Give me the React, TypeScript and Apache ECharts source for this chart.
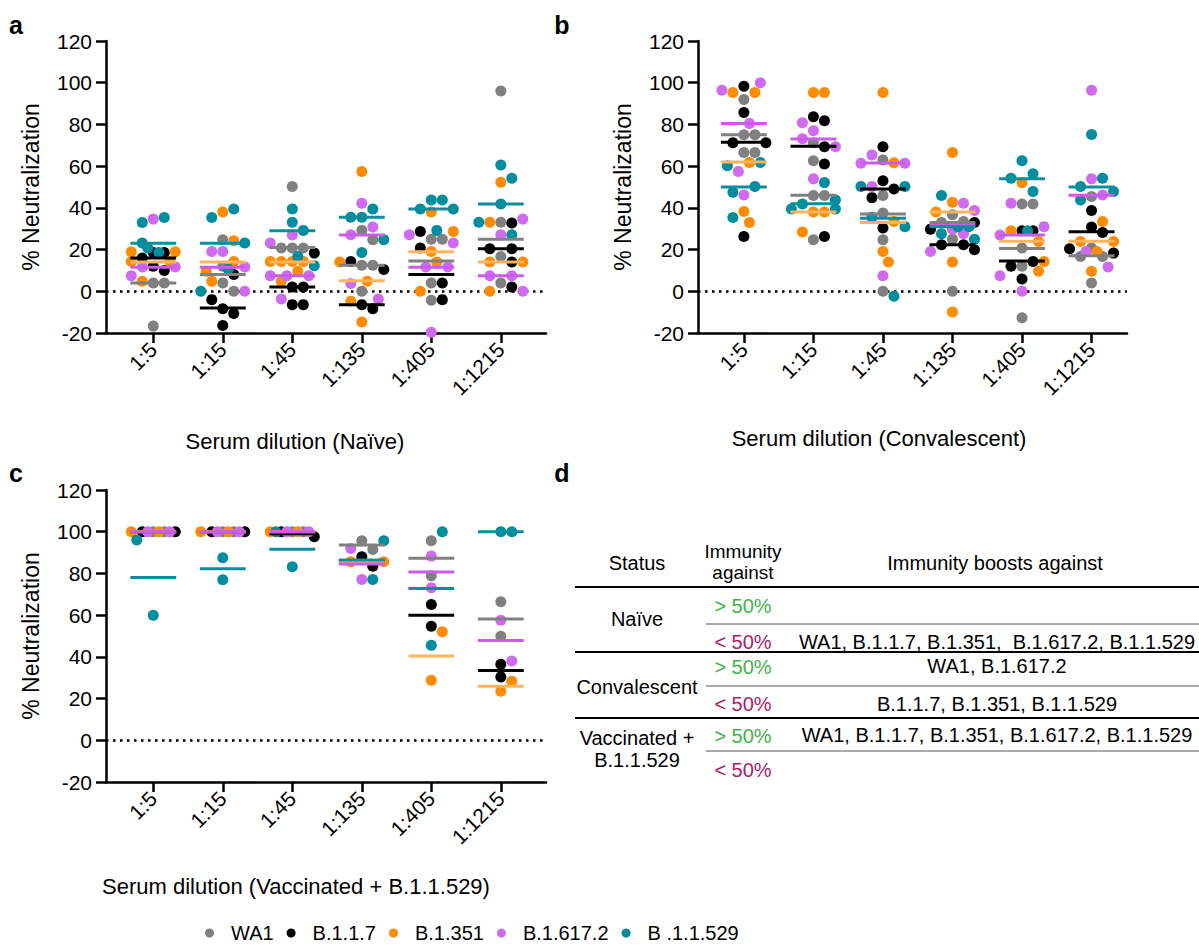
import React, { useEffect, useRef } from 'react';
import * as echarts from 'echarts';

// ---------- categories & labels ----------
const dilutions = ['1:5', '1:15', '1:45', '1:135', '1:405', '1:1215'];
const variants = ['WA1', 'B.1.1.7', 'B.1.351', 'B.1.617.2', 'B .1.1.529'];
const yTicks = [-20, 0, 20, 40, 60, 80, 100, 120];

// ---------- panel a: Naïve (values per dilution) ----------
const naiveWA1 = [[4, 4, -16.7], [24.7, 4, 0, 12], [50.2, 20.7, 20.7, 20.7], [29.2, 24.7, 12.5, 0, 12.5], [25, 25, 4, -4.3], [96, 33.1, 16.7, 4]];
const naiveB117 = [[18.6, 18.6, 16, 12, 10], [8, -8.4, -4, -10.7, -16.4], [18.3, -6.4, -6.4, 2, 2], [14.3, 10.4, -6.4, -8.4], [28.7, 20.7, 4, -4], [32.7, 20.4, 20.4, 14, 2]];
const naiveB1351 = [[19, 19, 14.3, 14.3, 4.8], [38, 24.2, 14.3, 4.8, 9.6], [14.3, 14.3, 14.3, 14.3, 4.8, 9.6], [57.4, 14, 4.8, -4.8, -14.7], [38, 28.7, 19.1, 14, 0], [52.3, 33.1, 14, 14, 0]];
const naiveB16172 = [[34.6, 11.6, 11.6, 7.5], [19.1, 19.1, 11.6, 0], [23.1, 27, 7.5, 7.5, 7.5, -3.7], [42.2, 30.8, 27.1, 3.7, -3.7], [27.1, 23.1, 11.6, 11.6, -19.6], [34.6, 27.1, 7.5, 7.5, 0]];
const naiveB11529 = [[35.4, 33, 23.1, 18.6, 20.7], [39.5, 35.4, 23.1, 10.7, 0], [39.5, 33.1, 29.2, 12.3, 16.7], [39.5, 35.5, 35.5, 24.7, 18.6], [43.8, 43.8, 39.5, 39.5, 29.2], [60.6, 54.2, 41.8, 33.1, 27.1]];
const naiveMedWA1 = [4, 8, 21, 12.5, 14.5, 25];
const naiveMedB117 = [16, -8, 2, -6.5, 8, 20.4];
const naiveMedB1351 = [14, 14, 14, 5, 19, 14];
const naiveMedB16172 = [11.5, 11.5, 7.5, 27, 11.5, 7.5];
const naiveMedB11529 = [23, 23, 29, 35.5, 39.5, 41.8];

// ---------- panel b: Convalescent ----------
const convWA1 = [[92, 75, 75, 66.5, 66.5], [71.2, 62.6, 45.9, 45.9, 24.7], [62.9, 45.9, 37.5, 24.7, 0], [36.7, 33.5, 25, 0, 33], [41.8, 41.8, 20.7, 12, -12.7], [45.4, 20.7, 16.7, 16.7, 4]];
const convB117 = [[98.3, 85.7, 71.2, 71.2, 26.3], [83.7, 81.8, 69.3, 61, 26.3], [69.3, 53, 49, 44.9, 30.3], [33, 29.8, 22.3, 22.3, 19.9], [29, 29, 14.3, 12, 5.9], [38.7, 30.8, 28.2, 18.3, 20.4]];
const convB1351 = [[95.3, 95.3, 61.8, 38.2, 33], [95.3, 95.3, 38, 38, 28.4], [95.3, 61.6, 33.5, 19.1, 14], [66.5, 42.7, 38, 14, -9.9], [52.1, 29, 23.9, 14.3, 9.6], [33.5, 23.9, 23.9, 19.1, 9.6]];
const convB16172 = [[100, 96.4, 80.5, 57.4, 46.2], [80.8, 77, 73.1, 69.3, 53.9], [65.4, 61.4, 61.4, 50.2, 7.5], [42.2, 38.7, 27.6, 29.8, 19.1], [42.2, 31, 27, 7.5, 0], [96.4, 53.9, 46.2, 19.1, 11.6]];
const convB11529 = [[61.8, 60.2, 50.2, 47.5, 35.4], [52.1, 41.8, 43.8, 39.5, 39.5], [50.2, 50.2, 35.5, 31, -2.4], [45.9, 31, 31, 27.6, 25], [62.6, 56.3, 54.2, 47.8, 29], [75.2, 54.2, 50.2, 47.8, 43.8]];
const convMedWA1 = [75, 46, 37, 33, 20.5, 17];
const convMedB117 = [71.5, 69.5, 49, 22.3, 14.5, 28.5];
const convMedB1351 = [62, 38, 33, 38, 24, 24];
const convMedB16172 = [80.5, 73, 61.5, 31.5, 27, 46];
const convMedB11529 = [50, 42, 35, 31, 54, 50];

// ---------- panel c: Vaccinated + B.1.1.529 ----------
const vaxWA1 = [[100, 100], [100, 100], [100, 100], [95.7, 91.5], [95.7, 78.9], [66.4, 49.9]];
const vaxB117 = [[100, 100], [100, 100], [100, 97.6], [88, 83.5], [65.1, 54.7], [36.5, 30.4]];
const vaxB1351 = [[100, 100], [100, 100], [100, 100], [85.6, 85.6], [52, 28.8], [28.3, 23.5]];
const vaxB16172 = [[100, 100], [100, 100], [100, 100], [92, 77.1], [88.3, 73.1], [57.6, 38]];
const vaxB11529 = [[96, 60], [87.5, 77], [100, 83.2], [95.7, 77.1], [100, 45.6], [100, 100]];
const vaxMedWA1 = [100, 100, 100, 93.6, 87.3, 58.2];
const vaxMedB117 = [100, 100, 99, 85.8, 59.9, 33.5];
const vaxMedB1351 = [100, 100, 100, 85.6, 40.4, 25.9];
const vaxMedB16172 = [100, 100, 100, 84.5, 80.7, 47.8];
const vaxMedB11529 = [78, 82.2, 91.6, 86.4, 72.8, 100];

// ---------- table (panel d) ----------
const tableHeader = ['Status', 'Immunity\nagainst', 'Immunity boosts against'];
const tableStatus = ['Naïve', 'Convalescent', 'Vaccinated +\nB.1.1.529'];
const tableAbove = ['', 'WA1, B.1.617.2', 'WA1, B.1.1.7, B.1.351, B.1.617.2, B.1.1.529'];
const tableBelow = ['WA1, B.1.1.7, B.1.351,  B.1.617.2, B.1.1.529', 'B.1.1.7, B.1.351, B.1.1.529', ''];

// ---------- styles ----------
const dotColors = ['#808080', '#000000', '#FF8C00', '#CF6BEE', '#008D9E'];
const lineColors = ['#808080', '#000000', '#FFB35C', '#C95DE9', '#0A8E9E'];
const FONT = '"Liberation Sans", Arial, Helvetica, sans-serif';
const GREEN = '#3FB34A';
const MAGENTA = '#A81E68';

const panels = [
  {
    grid: { left: 106, top: 41, width: 440, height: 292 },
    xMin: -0.68, xMax: 5.65,
    data: [naiveWA1, naiveB117, naiveB1351, naiveB16172, naiveB11529],
    med: [naiveMedWA1, naiveMedB117, naiveMedB1351, naiveMedB16172, naiveMedB11529],
    title: 'Serum dilution (Naïve)', titleX: 295, titleY: 441,
  },
  {
    grid: { left: 698, top: 41, width: 429, height: 292 },
    xMin: -0.66, xMax: 5.51,
    data: [convWA1, convB117, convB1351, convB16172, convB11529],
    med: [convMedWA1, convMedB117, convMedB1351, convMedB16172, convMedB11529],
    title: 'Serum dilution (Convalescent)', titleX: 879, titleY: 438,
  },
  {
    grid: { left: 106, top: 490, width: 440, height: 292 },
    xMin: -0.68, xMax: 5.65,
    data: [vaxWA1, vaxB117, vaxB1351, vaxB16172, vaxB11529],
    med: [vaxMedWA1, vaxMedB117, vaxMedB1351, vaxMedB16172, vaxMedB11529],
    title: 'Serum dilution (Vaccinated + B.1.1.529)', titleX: 296, titleY: 886,
  },
];

const DOT = 11;
const HALF_LINE = 0.33;

// beeswarm offsets (in category units) so dots of one dilution do not overlap
function swarm(groups: number[][][], pxX: number, pxY: number, maxHalf: number) {
  const out = groups.map((g) => g.map((c) => c.map(() => 0)));
  for (let c = 0; c < dilutions.length; c++) {
    const placed: { x: number; y: number }[] = [];
    const pts: { vi: number; i: number; v: number }[] = [];
    groups.forEach((g, vi) => (g[c] || []).forEach((v, i) => pts.push({ vi, i, v })));
    const step = DOT / 2;
    const maxPx = maxHalf * pxX;
    const cands = [0];
    for (let k = 1; k * step <= maxPx + 0.01; k++) cands.push(k * step, -k * step);
    pts.forEach((p) => {
      const y = p.v * pxY;
      let best = 0;
      let bestD = -1;
      for (const cx of cands) {
        let minD = Infinity;
        for (const q of placed) {
          const d = Math.hypot(q.x - cx, q.y - y);
          if (d < minD) minD = d;
        }
        if (minD >= DOT) { best = cx; break; }
        if (minD > bestD + 0.5) { bestD = minD; best = cx; }
      }
      placed.push({ x: best, y });
      out[p.vi][c][p.i] = best / pxX;
    });
  }
  return out;
}

export default function App() {
  const ref = useRef<HTMLDivElement>(null);
  useEffect(() => {
    document.body.style.margin = '0';
    if (!ref.current) return;
    const chart = echarts.init(ref.current, undefined, { renderer: 'svg' });

    const grids: any[] = [];
    const xAxes: any[] = [];
    const yAxes: any[] = [];
    const series: any[] = [];
    const graphics: any[] = [];

    panels.forEach((p, pi) => {
      grids.push({ ...p.grid, containLabel: false });
      const catIdx = dilutions.map((_, i) => i);
      xAxes.push({
        type: 'value', gridIndex: pi, min: p.xMin, max: p.xMax,
        axisLine: { show: true, onZero: false, lineStyle: { color: '#000', width: 2.5 } },
        axisTick: { show: true, customValues: catIdx, length: 10, lineStyle: { color: '#000', width: 2.5 } },
        axisLabel: {
          show: true, customValues: catIdx, rotate: 45, margin: 13,
          fontSize: 21, color: '#000', fontFamily: FONT,
          formatter: (v: number) => dilutions[Math.round(v)] ?? '',
        },
        splitLine: { show: false },
      });
      yAxes.push({
        type: 'value', gridIndex: pi, min: yTicks[0], max: yTicks[yTicks.length - 1], interval: 20,
        axisLine: { show: true, onZero: false, lineStyle: { color: '#000', width: 2.5 } },
        axisTick: { show: true, length: 10, lineStyle: { color: '#000', width: 2.5 } },
        axisLabel: { fontSize: 21, color: '#000', margin: 14, fontFamily: FONT },
        splitLine: { show: false },
        name: '% Neutralization', nameLocation: 'middle', nameGap: 64,
        nameTextStyle: { fontSize: 23, color: '#000', fontFamily: FONT },
      });

      const pxX = p.grid.width / (p.xMax - p.xMin);
      const pxY = p.grid.height / 140;
      const offs = swarm(p.data, pxX, pxY, 0.35);

      p.data.forEach((vals, vi) => {
        const pts: number[][] = [];
        vals.forEach((arr, c) => arr.forEach((v, i) => pts.push([c + offs[vi][c][i], v])));
        const s: any = {
          type: 'scatter', name: variants[vi], xAxisIndex: pi, yAxisIndex: pi,
          symbolSize: DOT, itemStyle: { color: dotColors[vi], opacity: 1 },
          data: pts, z: 2, silent: true,
        };
        if (vi === 0) {
          s.markLine = {
            silent: true, symbol: 'none', label: { show: false },
            lineStyle: { color: '#000', type: [2.5, 4.5], width: 2.5 },
            data: [{ yAxis: 0 }], z: 1,
          };
        }
        series.push(s);
      });
      p.med.forEach((m, vi) => {
        series.push({
          type: 'custom', xAxisIndex: pi, yAxisIndex: pi, z: 3, silent: true,
          data: m.map((v, c) => [c, v]),
          renderItem: (params: any, api: any) => {
            const pt = api.coord([api.value(0), api.value(1)]);
            const hw = api.size([HALF_LINE, 0])[0];
            return {
              type: 'line',
              shape: { x1: pt[0] - hw, y1: pt[1], x2: pt[0] + hw, y2: pt[1] },
              style: { stroke: lineColors[vi], lineWidth: 3 },
            };
          },
        });
      });

      graphics.push({
        type: 'text', x: p.titleX, y: p.titleY,
        style: { text: p.title, font: `22px ${FONT}`, fill: '#000', textAlign: 'center', textVerticalAlign: 'middle' },
      });
    });

    // panel letters
    [['a', 16, 25], ['b', 562, 25], ['c', 16, 473], ['d', 562, 473]].forEach(([t, x, y]) => {
      graphics.push({
        type: 'text', x, y,
        style: { text: t, font: `bold 25px ${FONT}`, fill: '#000', textAlign: 'center', textVerticalAlign: 'middle' },
      });
    });

    // table (panel d)
    const tFont = `20px ${FONT}`;
    const colX = [637, 743, 997];
    const txt = (text: string, x: number, y: number, fill = '#000', lh = 21, font = tFont) => ({
      type: 'text', x, y,
      style: { text, font, fill, textAlign: 'center', textVerticalAlign: 'middle', lineHeight: lh },
    });
    graphics.push(txt(tableHeader[0], colX[0], 563));
    graphics.push(txt(tableHeader[1], colX[1], 562, '#000', 21, `19px ${FONT}`));
    graphics.push(txt(tableHeader[2], colX[2] - 2, 563));
    const thickY = [587, 652, 718];
    const thinY = [624, 686, 751];
    thickY.forEach((y) => graphics.push({ type: 'line', shape: { x1: 575, y1: y, x2: 1199, y2: y }, style: { stroke: '#000', lineWidth: 2 } }));
    thinY.forEach((y) => graphics.push({ type: 'line', shape: { x1: 706, y1: y, x2: 1199, y2: y }, style: { stroke: '#555', lineWidth: 1 } }));
    const aboveY = [606, 667, 736];
    const belowY = [642, 704, 770];
    const statusY = [619, 687, 749];
    tableStatus.forEach((s, i) => {
      graphics.push(txt(s, colX[0], statusY[i], '#000', 22));
      graphics.push(txt('> 50%', colX[1], aboveY[i], GREEN));
      graphics.push(txt('< 50%', colX[1], belowY[i], MAGENTA));
      if (tableAbove[i]) graphics.push(txt(tableAbove[i], colX[2], aboveY[i] - 1));
      if (tableBelow[i]) graphics.push(txt(tableBelow[i], colX[2], belowY[i]));
    });

    chart.setOption({
      animation: false,
      textStyle: { fontFamily: FONT },
      grid: grids,
      xAxis: xAxes,
      yAxis: yAxes,
      series,
      legend: {
        data: variants, left: 200, top: 918, icon: 'circle',
        itemWidth: 9, itemHeight: 9, itemGap: 13,
        textStyle: { fontSize: 20, color: '#000', fontFamily: FONT, padding: [0, 0, 0, 12] },
        selectedMode: false,
      },
      graphic: graphics,
    });
    return () => chart.dispose();
  }, []);
  return <div ref={ref} style={{ width: 1199, height: 949 }} />;
}
